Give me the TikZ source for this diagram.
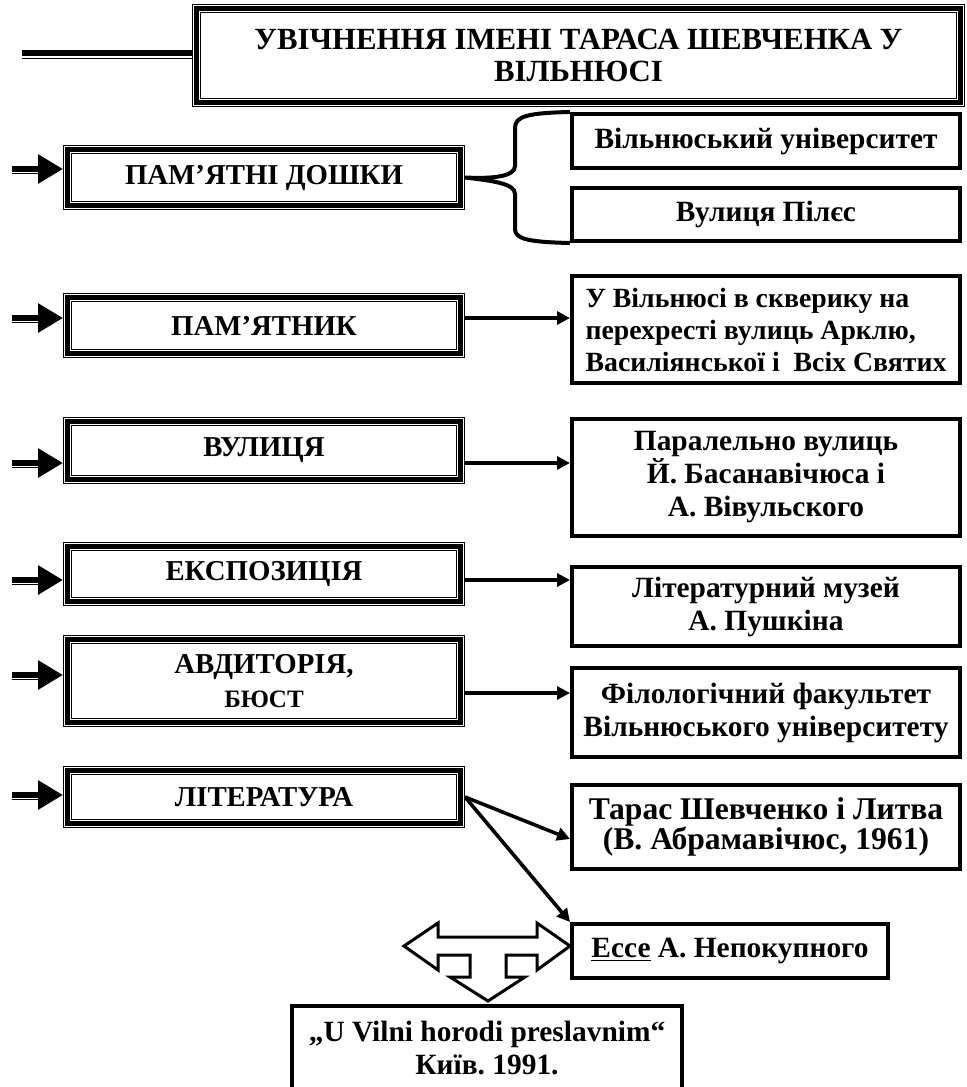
\documentclass[tikz,border=0pt]{standalone}
\usepackage{fontspec}
\setmainfont{Liberation Serif}
\usetikzlibrary{arrows.meta}
\frenchspacing

\tikzset{every picture/.style={line width=0.75pt}}
\tikzset{
  frame3/.style={draw, line width=4.5pt, postaction={draw, white, line width=3.5pt}, postaction={draw, black, line width=2.5pt}},
  lbox/.style={frame3, minimum width=196.5pt, inner sep=0pt, align=center, font=\bfseries\fontsize{14.4}{17}\selectfont},
  rbox/.style={draw, line width=2pt, minimum width=194pt, inner sep=0pt, align=center, font=\bfseries\fontsize{14.7}{16.5}\selectfont},
  inshaft/.style={line width=3pt, -{Triangle[length=12.5pt, width=14pt]}},
  conn/.style={line width=1.8pt, -{Triangle[length=6.5pt, width=6.5pt]}},
}

\begin{document}
\begin{tikzpicture}[x=0.5pt,y=0.5pt,yscale=-1,xscale=1]
\useasboundingbox (0,0) rectangle (966,1087);

%Shape: title
\node[frame3, minimum width=382pt, minimum height=47pt, inner sep=0pt, align=center, font=\bfseries\fontsize{15.4}{16}\selectfont] (title) at (578.5,55.5) {УВІЧНЕННЯ ІМЕНІ ТАРАСА ШЕВЧЕНКА У\\ВІЛЬНЮСІ};
\coordinate (tl) at (22,53);
\draw[line width=3pt] (tl) -- (tl -| title.west);
\draw[line width=0.5pt] ([yshift=2.5pt]tl) -- ([yshift=2.5pt]tl -| title.west);

%Shape: left boxes
\node[lbox, minimum height=28pt] (p1) at (264,177.5) {ПАМ’ЯТНІ ДОШКИ};
\node[lbox, minimum height=28pt] (p2) at (264,325.5) {ПАМ’ЯТНИК};
\node[lbox, minimum height=29pt] (p3) at (264,450.5) {ВУЛИЦЯ};
\node[lbox, minimum height=27.5pt] (p4) at (264,574) {ЕКСПОЗИЦІЯ};
\node[lbox, minimum height=41.5pt] (p5) at (264,681) {АВДИТОРІЯ,\\{\fontsize{12.5}{14}\selectfont БЮСТ}};
\node[lbox, minimum height=26.5pt] (p6) at (264,797) {ЛІТЕРАТУРА};

%Shape: right boxes
\node[rbox, minimum height=27pt] (r1a) at (766,141) {Вільнюський університет};
\node[rbox, minimum height=26.5pt] (r1b) at (766,214.5) {Вулиця Пілєс};
\node[rbox, minimum height=53.5pt, align=left, font=\bfseries\fontsize{13.9}{16}\selectfont] (r2) at (766,329.5) {У Вільнюсі в скверику на\\перехресті вулиць Арклю,\\Василіянської і\ \ Всіх Святих};
\node[rbox, minimum height=58.5pt] (r3) at (766,477.5) {Паралельно вулиць\\Й. Басанавічюса і\\А. Вівульского};
\node[rbox, minimum height=39.5pt] (r4) at (766,606.5) {Літературний музей\\А. Пушкіна};
\node[rbox, minimum height=44.5pt] (r5) at (766,712.5) {Філологічний факультет\\Вільнюського університету};
\node[rbox, minimum height=42pt, font=\bfseries\fontsize{15.8}{15}\selectfont] (r6) at (766,827) {Тарас Шевченко і Литва\\(В. Абрамавічюс, 1961)};
\node[rbox, minimum width=158pt, minimum height=27pt] (essay) at (730,951) {\underline{Ессе} А. Непокупного};
\node[rbox, minimum width=195pt, minimum height=41.5pt] (book) at (487,1047.5) {„U Vilni horodi preslavnim“\\Київ. 1991.};

% incoming arrows
\foreach \b/\y in {p1/169, p2/318, p3/463, p4/580, p5/675, p6/795}{
  \coordinate (in\b) at (12,\y);
  \draw[inshaft] (in\b) -- (in\b -| \b.west);
  \draw[line width=0.5pt] ([yshift=2.25pt]in\b) -- ++(28,0);
}

% Brace
\draw[line width=2pt] (r1a.north west) .. controls (528,113) and (515,116) .. (515,128) -- (515,166) .. controls (515,176) and (495,179) .. (p1.east) .. controls (495,181) and (515,184) .. (515,194) -- (515,229) .. controls (515,239) and (528,242) .. (r1b.south west);

% Connection
\draw[conn] (p2.east |- inp2) -- (r2.west |- inp2);
\draw[conn] (p3.east |- inp3) -- (r3.west |- inp3);
\draw[conn] (p4.east |- inp4) -- (r4.west |- inp4);
\coordinate (o5) at (465,693);
\draw[conn] (o5) -- (o5 -| r5.west);
\draw[conn] (p6.east) -- ([yshift=6pt]r6.west);
\draw[conn] (p6.east) -- (essay.north west);

%Shape: three-way block arrow
\draw[line width=1.5pt, fill=white, line join=miter] (404,946) -- (438,923) -- (438,937) -- (537,937) -- (537,923) -- (570,946) -- (537,970) -- (537,955) -- (506,955) -- (506,977) -- (525,977) -- (488,1001) -- (450,977) -- (470,977) -- (470,955) -- (438,955) -- (438,970) -- cycle;

\end{tikzpicture}
\end{document}
